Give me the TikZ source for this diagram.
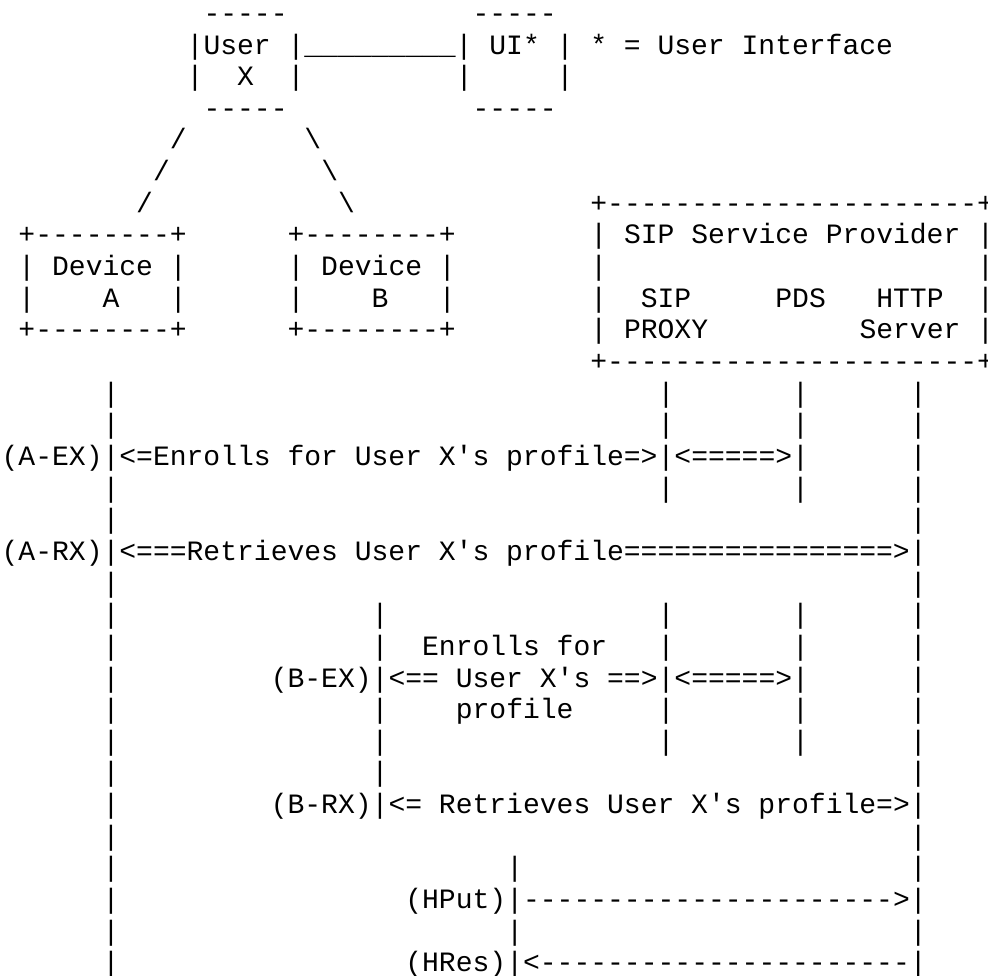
\documentclass[tikz,border=0pt]{standalone}
\usepackage{fontspec}
\setmonofont{Liberation Mono}
\tikzset{ascii/.style={font=\ttfamily\fontsize{21.02pt}{23.74pt}\selectfont, anchor=base west, inner sep=0pt, outer sep=0pt},}

\begin{document}
\begin{tikzpicture}[x=12.615pt, y=-23.7375pt]
			\useasboundingbox (-1.2525pt,16.7625pt) rectangle (739.7475pt,-714.4875pt);

			% User X and UI
			\node[ascii] (usertop) at (12,0) {-----};
			\node[ascii] (uitop) at (28,0) {-----};
			\node[ascii] (user) at (11,1) {|User |\_\_\_\_\_\_\_\_\_| UI* | * = User Interface};
			\node[ascii] (userl) at (11,2) {|};
			\node[ascii] (userx) at (14,2) {X};
			\node[ascii] (userr) at (17,2) {|};
			\node[ascii] (uil) at (27,2) {|};
			\node[ascii] (uir) at (33,2) {|};
			\node[ascii] (userbot) at (12,3) {-----};
			\node[ascii] (uibot) at (28,3) {-----};

			% Links to devices
			\node[ascii] (la1) at (10,4) {/};
			\node[ascii] (la2) at (9,5) {/};
			\node[ascii] (la3) at (8,6) {/};
			\node[ascii] (lb1) at (18,4) {\textbackslash};
			\node[ascii] (lb2) at (19,5) {\textbackslash};
			\node[ascii] (lb3) at (20,6) {\textbackslash};

			% Devices
			\node[ascii] (devatop) at (1,7) {+--------+};
			\node[ascii] (devbtop) at (17,7) {+--------+};
			\node[ascii] (deva) at (1,8) {| Device |};
			\node[ascii] (devb) at (17,8) {| Device |};
			\node[ascii] (deval) at (1,9) {|};
			\node[ascii] (devan) at (6,9) {A};
			\node[ascii] (devar) at (10,9) {|};
			\node[ascii] (devbl) at (17,9) {|};
			\node[ascii] (devbn) at (22,9) {B};
			\node[ascii] (devbr) at (26,9) {|};
			\node[ascii] (devabot) at (1,10) {+--------+};
			\node[ascii] (devbbot) at (17,10) {+--------+};

			% Provider
			\node[ascii] (sptop) at (35,6) {+----------------------+};
			\node[ascii] (sp) at (35,7) {| SIP Service Provider |};
			\node[ascii] (spl1) at (35,8) {|};
			\node[ascii] (spr1) at (58,8) {|};
			\node[ascii] (spl2) at (35,9) {|};
			\node[ascii] (sip) at (38,9) {SIP};
			\node[ascii] (pds) at (46,9) {PDS};
			\node[ascii] (http) at (52,9) {HTTP};
			\node[ascii] (spr2) at (58,9) {|};
			\node[ascii] (proxy) at (35,10) {| PROXY};
			\node[ascii] (server) at (51,10) {Server |};
			\node[ascii] (spbot) at (35,11) {+----------------------+};

			% Lifelines
			\foreach \r in {12,...,30} {
				\node[ascii] (a\r) at (6,\r) {|};
				\node[ascii] (h\r) at (54,\r) {|};
			}
			\foreach \r in {12,13,14,15,19,20,21,22,23} {
				\node[ascii] (s\r) at (39,\r) {|};
				\node[ascii] (p\r) at (47,\r) {|};
			}
			\foreach \r in {19,...,25}
				\node[ascii] (b\r) at (22,\r) {|};
			\foreach \r in {27,...,30}
				\node[ascii] (x\r) at (30,\r) {|};

			% Messages
			\node[ascii] (aex) at (0,14) {(A-EX)};
			\node[ascii] (aexm) at (7,14) {<=Enrolls for User X's profile=>};
			\node[ascii] (aexp) at (40,14) {<=====>};
			\node[ascii] (arx) at (0,17) {(A-RX)};
			\node[ascii] (arxm) at (7,17) {<===Retrieves User X's profile================>};
			\node[ascii] (bext) at (25,20) {Enrolls for};
			\node[ascii] (bex) at (16,21) {(B-EX)};
			\node[ascii] (bexm) at (23,21) {<== User X's ==>};
			\node[ascii] (bexp) at (40,21) {<=====>};
			\node[ascii] (bexb) at (27,22) {profile};
			\node[ascii] (brx) at (16,25) {(B-RX)};
			\node[ascii] (brxm) at (23,25) {<= Retrieves User X's profile=>};
			\node[ascii] (hput) at (24,28) {(HPut)};
			\node[ascii] (hputm) at (31,28) {---------------------->};
			\node[ascii] (hres) at (24,30) {(HRes)};
			\node[ascii] (hresm) at (31,30) {<----------------------};
\end{tikzpicture}
\end{document}
